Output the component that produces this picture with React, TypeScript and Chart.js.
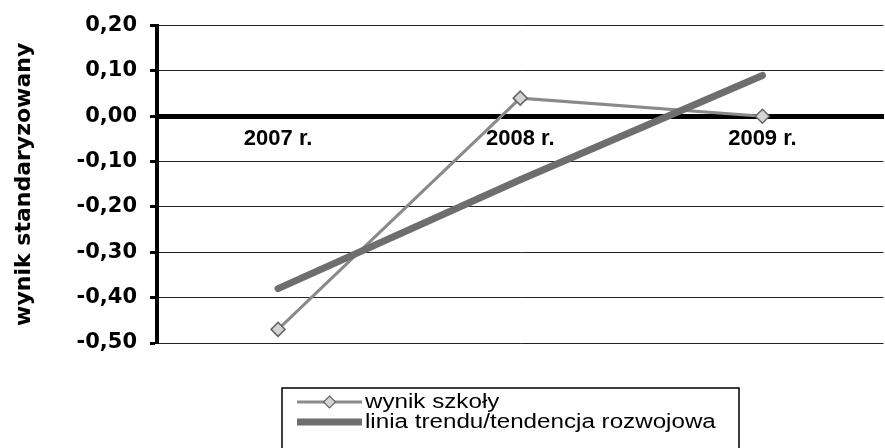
import React, { useEffect, useRef } from "react";
import { Chart, registerables } from "chart.js";

Chart.register(...registerables);

const categories = ["2007 r.", "2008 r.", "2009 r."];
const schoolScores = [-0.47, 0.04, 0.0];
const trendValues = [-0.38, -0.14, 0.09];
const seriesNames = ["wynik szkoły", "linia trendu/tendencja rozwojowa"];
const yAxisTitle = "wynik standaryzowany";
const yMin = -0.5;
const yMax = 0.2;
const yStep = 0.1;

const formatTick = (v: number) => {
  const n = Math.abs(Number(v)) < 1e-9 ? 0 : Number(v);
  return n.toFixed(2).replace(".", ",");
};

const boxLegend = {
  id: "boxLegend",
  afterDraw(chart: any) {
    const ctx = chart.ctx as CanvasRenderingContext2D;
    ctx.save();
    const left = 282;
    const top = 388;
    ctx.strokeStyle = "#000";
    ctx.lineWidth = 1.5;
    ctx.strokeRect(left, top, 457, 80);
    chart.data.datasets.forEach((ds: any, i: number) => {
      const y = 402 + i * 20;
      const x0 = 297;
      const x1 = 362;
      ctx.strokeStyle = ds.borderColor;
      ctx.lineWidth = ds.borderWidth;
      ctx.lineCap = "butt";
      ctx.beginPath();
      ctx.moveTo(x0, y);
      ctx.lineTo(x1, y);
      ctx.stroke();
      if (ds.pointRadius > 0) {
        const cx = (x0 + x1) / 2;
        const r = 6;
        ctx.beginPath();
        ctx.moveTo(cx, y - r);
        ctx.lineTo(cx + r, y);
        ctx.lineTo(cx, y + r);
        ctx.lineTo(cx - r, y);
        ctx.closePath();
        ctx.fillStyle = ds.pointBackgroundColor;
        ctx.fill();
        ctx.strokeStyle = ds.pointBorderColor;
        ctx.lineWidth = 1.2;
        ctx.stroke();
      }
      ctx.save();
      ctx.translate(365, y + 1);
      ctx.scale(1.24, 1);
      ctx.fillStyle = "#000";
      ctx.font = '19.5px "Liberation Sans", Arial, sans-serif';
      ctx.textBaseline = "middle";
      ctx.textAlign = "left";
      ctx.fillText(ds.label, 0, 0);
      ctx.restore();
    });
    ctx.restore();
  },
};

export default function App() {
  const canvasRef = useRef<HTMLCanvasElement | null>(null);

  useEffect(() => {
    const canvas = canvasRef.current;
    if (!canvas) return;
    const chart = new Chart(canvas, {
      type: "line",
      data: {
        labels: categories,
        datasets: [
          {
            label: seriesNames[0],
            data: schoolScores,
            borderColor: "#8a8a8a",
            borderWidth: 3,
            pointStyle: "rectRot",
            pointRadius: 7,
            pointBackgroundColor: "#d4d4d4",
            pointBorderColor: "#666",
            pointBorderWidth: 1.5,
            tension: 0,
            order: 1,
          },
          {
            label: seriesNames[1],
            data: trendValues,
            borderColor: "#6e6e6e",
            borderWidth: 7,
            pointRadius: 0,
            borderCapStyle: "round",
            tension: 0,
            order: 0,
          },
        ],
      },
      options: {
        animation: false,
        responsive: false,
        maintainAspectRatio: false,
        layout: { padding: { top: 23, bottom: 105, left: 0, right: 0 } },
        plugins: {
          legend: { display: false },
          tooltip: { enabled: false },
        },
        scales: {
          x: {
            type: "category",
            offset: true,
            position: { y: 0 } as any,
            grid: { display: false, drawTicks: false },
            border: { display: true, color: "#000", width: 5 },
            ticks: {
              color: "#000",
              padding: 9,
              maxRotation: 0,
              font: {
                family: '"Liberation Sans", Arial, sans-serif',
                size: 22,
                weight: "bold",
              },
            },
          },
          y: {
            min: yMin,
            max: yMax,
            afterFit: (scale: any) => {
              scale.width = 157;
            },
            ticks: {
              stepSize: yStep,
              color: "#000",
              padding: 13,
              callback: (v: any) => formatTick(v),
              font: { family: '"DejaVu Sans", sans-serif', size: 21, weight: "bold" },
            },
            grid: {
              color: "#222",
              lineWidth: (ctx: any) =>
                ctx.tick && Math.abs(ctx.tick.value) < 1e-9 ? 5 : 1,
              tickColor: "#000",
              tickWidth: 3,
              tickLength: 7,
            },
            border: { display: true, color: "#000", width: 4 },
            title: {
              display: true,
              text: yAxisTitle,
              color: "#000",
              padding: { top: 11, bottom: 0 },
              font: { family: '"DejaVu Sans", sans-serif', size: 22, weight: "bold" },
            },
          },
        },
      },
      plugins: [boxLegend],
    });
    return () => chart.destroy();
  }, []);

  return (
    <div
      style={{
        position: "fixed",
        left: 0,
        top: 0,
        width: 885,
        height: 448,
        overflow: "hidden",
        background: "#fff",
      }}
    >
      <canvas
        ref={canvasRef}
        width={892}
        height={448}
        style={{ display: "block", width: 892, height: 448 }}
      />
    </div>
  );
}
